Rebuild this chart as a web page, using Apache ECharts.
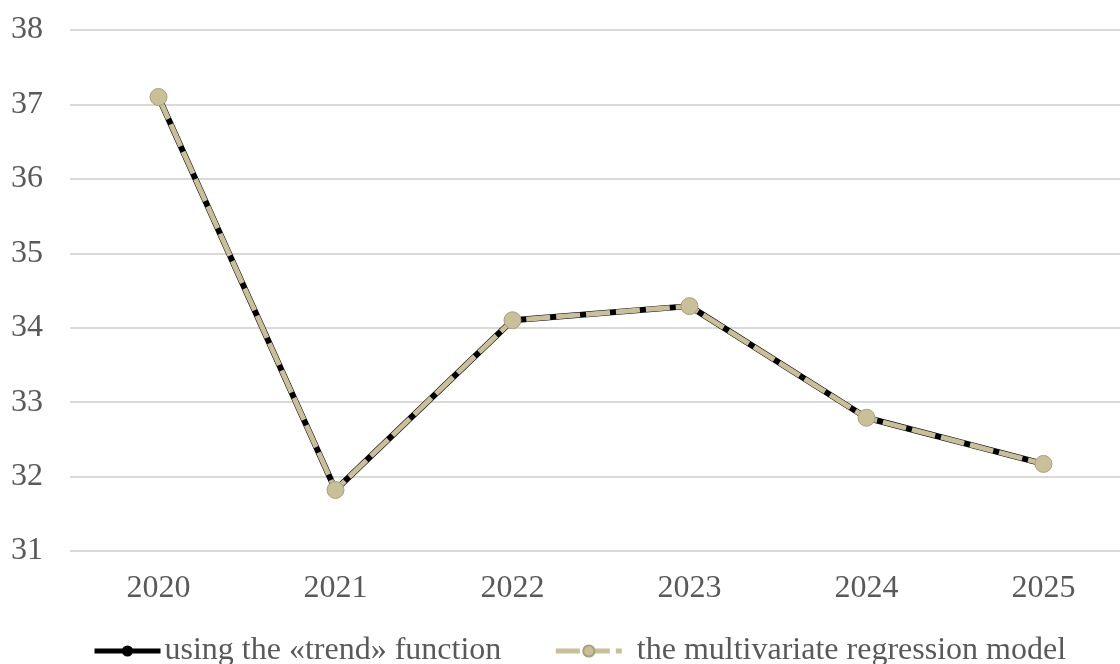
<!DOCTYPE html>
<html>
<head>
<meta charset="utf-8">
<script src="https://cdn.jsdelivr.net/npm/echarts@6/dist/echarts.min.js"></script>
<style>html,body{margin:0;padding:0;background:#fff}#c{width:1120px;height:664px}</style>
</head>
<body>
<div id="c"></div>
<script>
const categories = ['2020', '2021', '2022', '2023', '2024', '2025'];
const trendValues = [37.1, 31.82, 34.1, 34.29, 32.79, 32.17];
const regressionValues = [37.1, 31.82, 34.1, 34.29, 32.79, 32.17];
const seriesNames = ['using the «trend» function', 'the multivariate regression model'];
const yTicks = { min: 31, max: 38, interval: 1 };

const font = '"Liberation Serif", "Times New Roman", serif';
const chart = echarts.init(document.getElementById('c'), null, { renderer: 'canvas' });
chart.setOption({
  animation: false,
  backgroundColor: '#fff',
  grid: { left: 70, top: 30, width: 1062, height: 521, containLabel: false, outerBoundsMode: 'none' },
  legend: {
    top: 630,
    left: 87,
    itemWidth: 66,
    itemHeight: 14,
    itemGap: 52,
    textStyle: { fontFamily: font, fontSize: 32, color: '#595959', padding: [0, 0, 0, -1] },
    data: [
      { name: seriesNames[0], lineStyle: { width: 5 } },
      { name: seriesNames[1], lineStyle: { width: 5 }, textStyle: { fontFamily: font, fontSize: 32, color: '#595959', padding: [0, 0, 0, 10] } }
    ]
  },
  xAxis: {
    type: 'category',
    data: categories,
    boundaryGap: true,
    axisLine: { show: false },
    axisTick: { show: false },
    axisLabel: { fontFamily: font, fontSize: 32, color: '#595959', margin: 22 }
  },
  yAxis: {
    type: 'value',
    min: yTicks.min, max: yTicks.max, interval: yTicks.interval,
    axisLine: { show: false },
    axisTick: { show: false },
    splitLine: { lineStyle: { color: '#d9d9d9', width: 2 } },
    axisLabel: { fontFamily: font, fontSize: 32, color: '#595959', margin: 27 }
  },
  series: [
    {
      name: seriesNames[0],
      type: 'line',
      data: trendValues,
      symbol: 'circle',
      symbolSize: 15,
      lineStyle: { color: '#000', width: 6 },
      itemStyle: { color: '#000' },
      z: 2
    },
    {
      name: seriesNames[1],
      type: 'line',
      data: regressionValues,
      symbol: 'circle',
      symbolSize: 17,
      lineStyle: { color: '#c9bf98', width: 5, type: [24, 6], cap: 'butt' },
      itemStyle: { color: '#c9bf98', borderColor: '#a9a07c', borderWidth: 1 },
      z: 3
    }
  ]
});
</script>
</body>
</html>
